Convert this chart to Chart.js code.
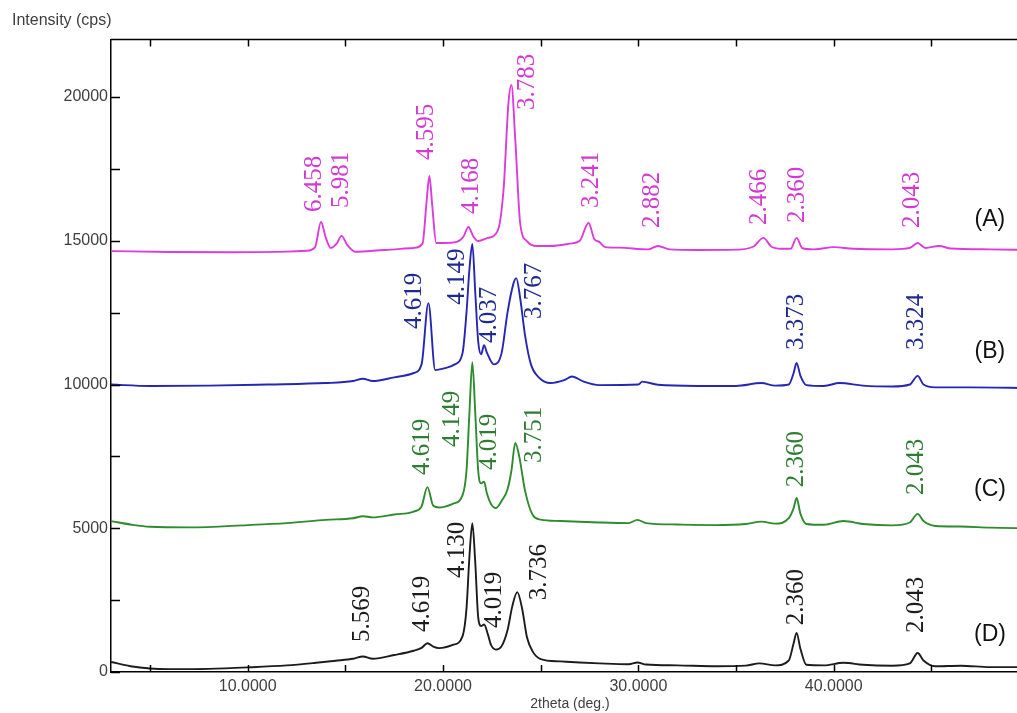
<!DOCTYPE html>
<html>
<head>
<meta charset="utf-8">
<script src="https://cdn.jsdelivr.net/npm/chart.js@4.4.1/dist/chart.umd.min.js"></script>
<style>
html,body{margin:0;padding:0;background:#fff;overflow:hidden;}
#wrap{width:1035px;height:713px;position:relative;}
</style>
</head>
<body>
<div id="wrap"><canvas id="c" width="1035" height="713"></canvas></div>
<script>
// ---------- DATA ----------
const twoThetaA = [3, 6, 9, 12, 13.0, 13.45, 13.75, 14.0, 14.25, 14.55, 14.8, 15.1, 15.5, 17.0, 18.5, 18.95, 19.15, 19.3, 19.45, 19.65, 20.0, 20.7, 21.05, 21.3, 21.55, 21.8, 22.3, 22.8, 23.1, 23.35, 23.5, 23.7, 23.95, 24.3, 24.8, 25.5, 26.5, 27.0, 27.45, 27.75, 28.0, 28.3, 29, 30.5, 31.0, 31.6, 33, 35, 35.9, 36.4, 36.8, 37.3, 37.8, 38.1, 38.4, 39, 40, 41, 43, 43.9, 44.3, 44.7, 45.4, 46, 48, 50];
const intensityA = [14640, 14610, 14600, 14620, 14650, 14780, 15650, 15100, 14750, 14900, 15170, 14850, 14620, 14680, 14750, 14900, 16300, 17250, 16200, 14920, 14920, 14960, 15150, 15480, 15150, 14990, 15100, 15350, 16800, 19800, 20420, 18500, 15600, 14980, 14820, 14820, 14900, 15000, 15620, 15050, 14960, 14780, 14760, 14700, 14820, 14700, 14680, 14690, 14800, 15100, 14800, 14720, 14720, 15100, 14740, 14700, 14780, 14720, 14700, 14750, 14920, 14750, 14820, 14730, 14700, 14680];

const twoThetaB = [3, 5, 8, 11, 14, 15.4, 15.9, 16.4, 17.5, 18.5, 18.9, 19.25, 19.6, 20.0, 20.6, 21.0, 21.2, 21.35, 21.5, 21.65, 21.8, 21.95, 22.1, 22.25, 22.6, 23.0, 23.3, 23.6, 23.75, 23.95, 24.2, 24.5, 24.9, 25.5, 26.2, 26.6, 27.2, 28, 30, 30.2, 31, 33, 35, 36.3, 37, 37.7, 37.95, 38.1, 38.3, 38.6, 39.5, 40.3, 41.5, 43, 43.9, 44.3, 44.6, 45.2, 47, 50];
const intensityB = [10000, 9950, 9960, 10000, 10050, 10120, 10200, 10120, 10250, 10400, 10700, 12830, 10500, 10550, 10700, 11100, 12500, 14000, 14890, 13200, 11500, 11050, 11370, 11100, 10700, 11100, 12500, 13500, 13700, 13000, 11700, 10700, 10250, 10050, 10150, 10280, 10100, 9980, 10000, 10100, 9990, 9950, 9950, 10050, 9960, 10000, 10400, 10750, 10300, 9980, 9950, 10050, 9960, 9930, 10000, 10300, 10000, 9900, 9900, 9880];

const twoThetaC = [3, 4, 5, 7, 10, 12, 14, 15.4, 15.9, 16.4, 17.5, 18.5, 18.9, 19.2, 19.5, 19.8, 20.5, 21.0, 21.2, 21.35, 21.5, 21.65, 21.8, 21.95, 22.1, 22.25, 22.45, 22.7, 23.0, 23.3, 23.5, 23.7, 23.9, 24.2, 24.6, 25.0, 26.0, 28.0, 29.5, 29.95, 30.4, 32, 34, 35.5, 36.3, 37, 37.7, 37.95, 38.1, 38.3, 38.6, 39.5, 40.5, 41.5, 43, 43.9, 44.3, 44.6, 45.2, 46.5, 48, 50];
const intensityC = [5250, 5130, 5050, 5030, 5110, 5180, 5290, 5350, 5420, 5380, 5480, 5580, 5760, 6430, 5780, 5720, 5850, 6150, 7000, 9000, 10780, 9000, 7000, 6560, 6620, 6200, 5850, 5700, 5950, 6350, 7000, 7970, 7500, 6300, 5450, 5300, 5250, 5200, 5180, 5290, 5180, 5130, 5110, 5150, 5230, 5160, 5350, 5700, 6050, 5500, 5150, 5120, 5250, 5150, 5100, 5200, 5500, 5250, 5080, 5060, 5020, 5000];

const twoThetaD = [3, 4, 5, 6, 8, 10, 12, 13.5, 14.5, 15.4, 15.9, 16.4, 17.5, 18.5, 18.9, 19.2, 19.5, 19.8, 20.5, 21.0, 21.2, 21.35, 21.5, 21.65, 21.8, 21.95, 22.1, 22.3, 22.45, 22.7, 23.0, 23.3, 23.55, 23.8, 24.05, 24.3, 24.6, 25.0, 26.0, 27.0, 28.0, 29.5, 29.95, 30.4, 32, 34, 35.5, 36.2, 37, 37.7, 37.95, 38.1, 38.3, 38.6, 39.5, 40.5, 41.5, 43, 43.9, 44.3, 44.6, 45.2, 46.5, 48, 50];
const intensityD = [350, 200, 120, 100, 110, 160, 230, 320, 390, 460, 540, 460, 590, 740, 840, 1000, 880, 830, 940, 1250, 2200, 4000, 5180, 3800, 1900, 1600, 1650, 1300, 950, 780, 900, 1450, 2300, 2780, 2200, 1200, 700, 450, 370, 330, 300, 270, 330, 260, 230, 200, 220, 300, 230, 400, 1000, 1360, 800, 250, 230, 320, 250, 220, 300, 660, 400, 200, 220, 170, 170];

// peak annotations: [2theta, intensity at text start, d-spacing text]
const peakLabelsA = [[13.44,16000,"6.458"],[14.82,16140,"5.981"],[19.13,17810,"4.595"],[21.44,15930,"4.168"],[24.31,19550,"3.783"],[27.59,16140,"3.241"],[30.72,15440,"2.882"],[36.21,15550,"2.466"],[38.15,15620,"2.360"],[44.05,15440,"2.043"]];
const peakLabelsB = [[18.51,11930,"4.619"],[20.72,12770,"4.149"],[22.36,11440,"4.037"],[24.67,12280,"3.767"],[38.10,11200,"3.373"],[44.26,11200,"3.324"]];
const peakLabelsC = [[18.92,6850,"4.619"],[20.46,7830,"4.149"],[22.36,7030,"4.019"],[24.67,7270,"3.751"],[38.10,6430,"2.360"],[44.26,6160,"2.043"]];
const peakLabelsD = [[15.85,1040,"5.569"],[18.92,1390,"4.619"],[20.72,3270,"4.130"],[22.62,1530,"4.019"],[24.92,2500,"3.736"],[38.10,1630,"2.360"],[44.26,1360,"2.043"]];

const seriesNames = ["(A)", "(B)", "(C)", "(D)"];
const seriesNamePos = [[48.0,15720],[48.0,11130],[48.0,6330],[48.0,1290]];

const xTickValues = [10, 20, 30, 40];
const xTickLabels = ["10.0000", "20.0000", "30.0000", "40.0000"];
const yTickValues = [0, 5000, 10000, 15000, 20000];
const yTickLabels = ["0", "5000", "10000", "15000", "20000"];
const xTickMarks = [5, 10, 15, 20, 25, 30, 35, 40, 45, 50];
const yTickMarks = [0, 2500, 5000, 7500, 10000, 12500, 15000, 17500, 20000];

// ---------- STYLE ----------
const lineColors = ["#dc3cdc", "#2626b4", "#2e8b2e", "#1c1c1c"];
const labelColors = ["#d23ad2", "#1f2a90", "#2e7d32", "#1c1c1c"];

function pts(xs, ys){ return xs.map((x,i)=>({x:x, y:ys[i]})); }

const allLabels = [peakLabelsA, peakLabelsB, peakLabelsC, peakLabelsD];

const decor = {
  id: 'decor',
  afterDatasetsDraw(chart){
    const ctx = chart.ctx, xs = chart.scales.x, ys = chart.scales.y, a = chart.chartArea;
    ctx.save();
    // peak labels
    ctx.font = '25px "Liberation Serif", "Times New Roman", serif';
    ctx.textAlign = 'left';
    ctx.textBaseline = 'middle';
    allLabels.forEach((arr, si)=>{
      ctx.fillStyle = labelColors[si];
      arr.forEach(([x,y,t])=>{
        ctx.save();
        ctx.translate(xs.getPixelForValue(x), ys.getPixelForValue(y));
        ctx.rotate(-Math.PI/2);
        ctx.fillText(t, 0, 0);
        ctx.restore();
      });
    });
    // series names
    ctx.font = '23px "Liberation Sans", Arial, sans-serif';
    ctx.fillStyle = '#111';
    ctx.textAlign = 'center';
    seriesNames.forEach((n,i)=>{
      ctx.fillText(n, xs.getPixelForValue(seriesNamePos[i][0]), ys.getPixelForValue(seriesNamePos[i][1]));
    });
    // frame & inward ticks
    ctx.strokeStyle = '#000';
    ctx.lineWidth = 1.5;
    ctx.beginPath();
    ctx.moveTo(a.left, a.top); ctx.lineTo(a.right, a.top);
    yTickMarks.forEach(v=>{
      const py = Math.round(ys.getPixelForValue(v)) + 0.5;
      ctx.moveTo(a.left, py); ctx.lineTo(a.left + 9, py);
    });
    xTickMarks.forEach(v=>{
      const px = Math.round(xs.getPixelForValue(v)) + 0.5;
      ctx.moveTo(px, a.bottom); ctx.lineTo(px, a.bottom - 7);
      ctx.moveTo(px, a.top); ctx.lineTo(px, a.top + 7);
    });
    ctx.stroke();
    // y-axis title
    ctx.font = '16px "Liberation Sans", Arial, sans-serif';
    ctx.fillStyle = '#404040';
    ctx.textAlign = 'left';
    ctx.textBaseline = 'middle';
    ctx.fillText('Intensity (cps)', 12, 21);
    ctx.restore();
  }
};

new Chart(document.getElementById('c'), {
  type: 'line',
  data: {
    datasets: [
      {data: pts(twoThetaA, intensityA), borderColor: lineColors[0]},
      {data: pts(twoThetaB, intensityB), borderColor: lineColors[1]},
      {data: pts(twoThetaC, intensityC), borderColor: lineColors[2]},
      {data: pts(twoThetaD, intensityD), borderColor: lineColors[3]}
    ]
  },
  options: {
    responsive: false,
    animation: false,
    devicePixelRatio: 1,
    layout: {padding: {left: 0, right: 6, top: 39.5, bottom: 0}},
    elements: {
      point: {radius: 0},
      line: {borderWidth: 1.9, cubicInterpolationMode: 'monotone', fill: false}
    },
    plugins: {legend: {display: false}, tooltip: {enabled: false}},
    scales: {
      x: {
        type: 'linear', min: 3, max: 50,
        grid: {display: false, drawTicks: false},
        border: {display: true, color: '#000', width: 1.5},
        afterBuildTicks: s => { s.ticks = xTickValues.map(v=>({value: v})); },
        afterFit: s => { s.height = 41; },
        ticks: {
          padding: 5, color: '#404040', maxRotation: 0,
          font: {family: '"Liberation Sans", Arial, sans-serif', size: 16},
          callback: v => { const i = xTickValues.indexOf(v); return i >= 0 ? xTickLabels[i] : ''; }
        },
        title: {
          display: true, text: '2theta (deg.)', color: '#404040', padding: 0,
          font: {family: '"Liberation Sans", Arial, sans-serif', size: 14}
        }
      },
      y: {
        type: 'linear', min: 0, max: 22000,
        grid: {display: false, drawTicks: false},
        border: {display: true, color: '#000', width: 1.5},
        afterBuildTicks: s => { s.ticks = yTickValues.map(v=>({value: v})); },
        afterFit: s => { s.width = 111; },
        ticks: {
          padding: 3, color: '#404040',
          font: {family: '"Liberation Sans", Arial, sans-serif', size: 16},
          callback: v => { const i = yTickValues.indexOf(v); return i >= 0 ? yTickLabels[i] : ''; }
        }
      }
    }
  },
  plugins: [decor]
});
</script>
</body>
</html>
